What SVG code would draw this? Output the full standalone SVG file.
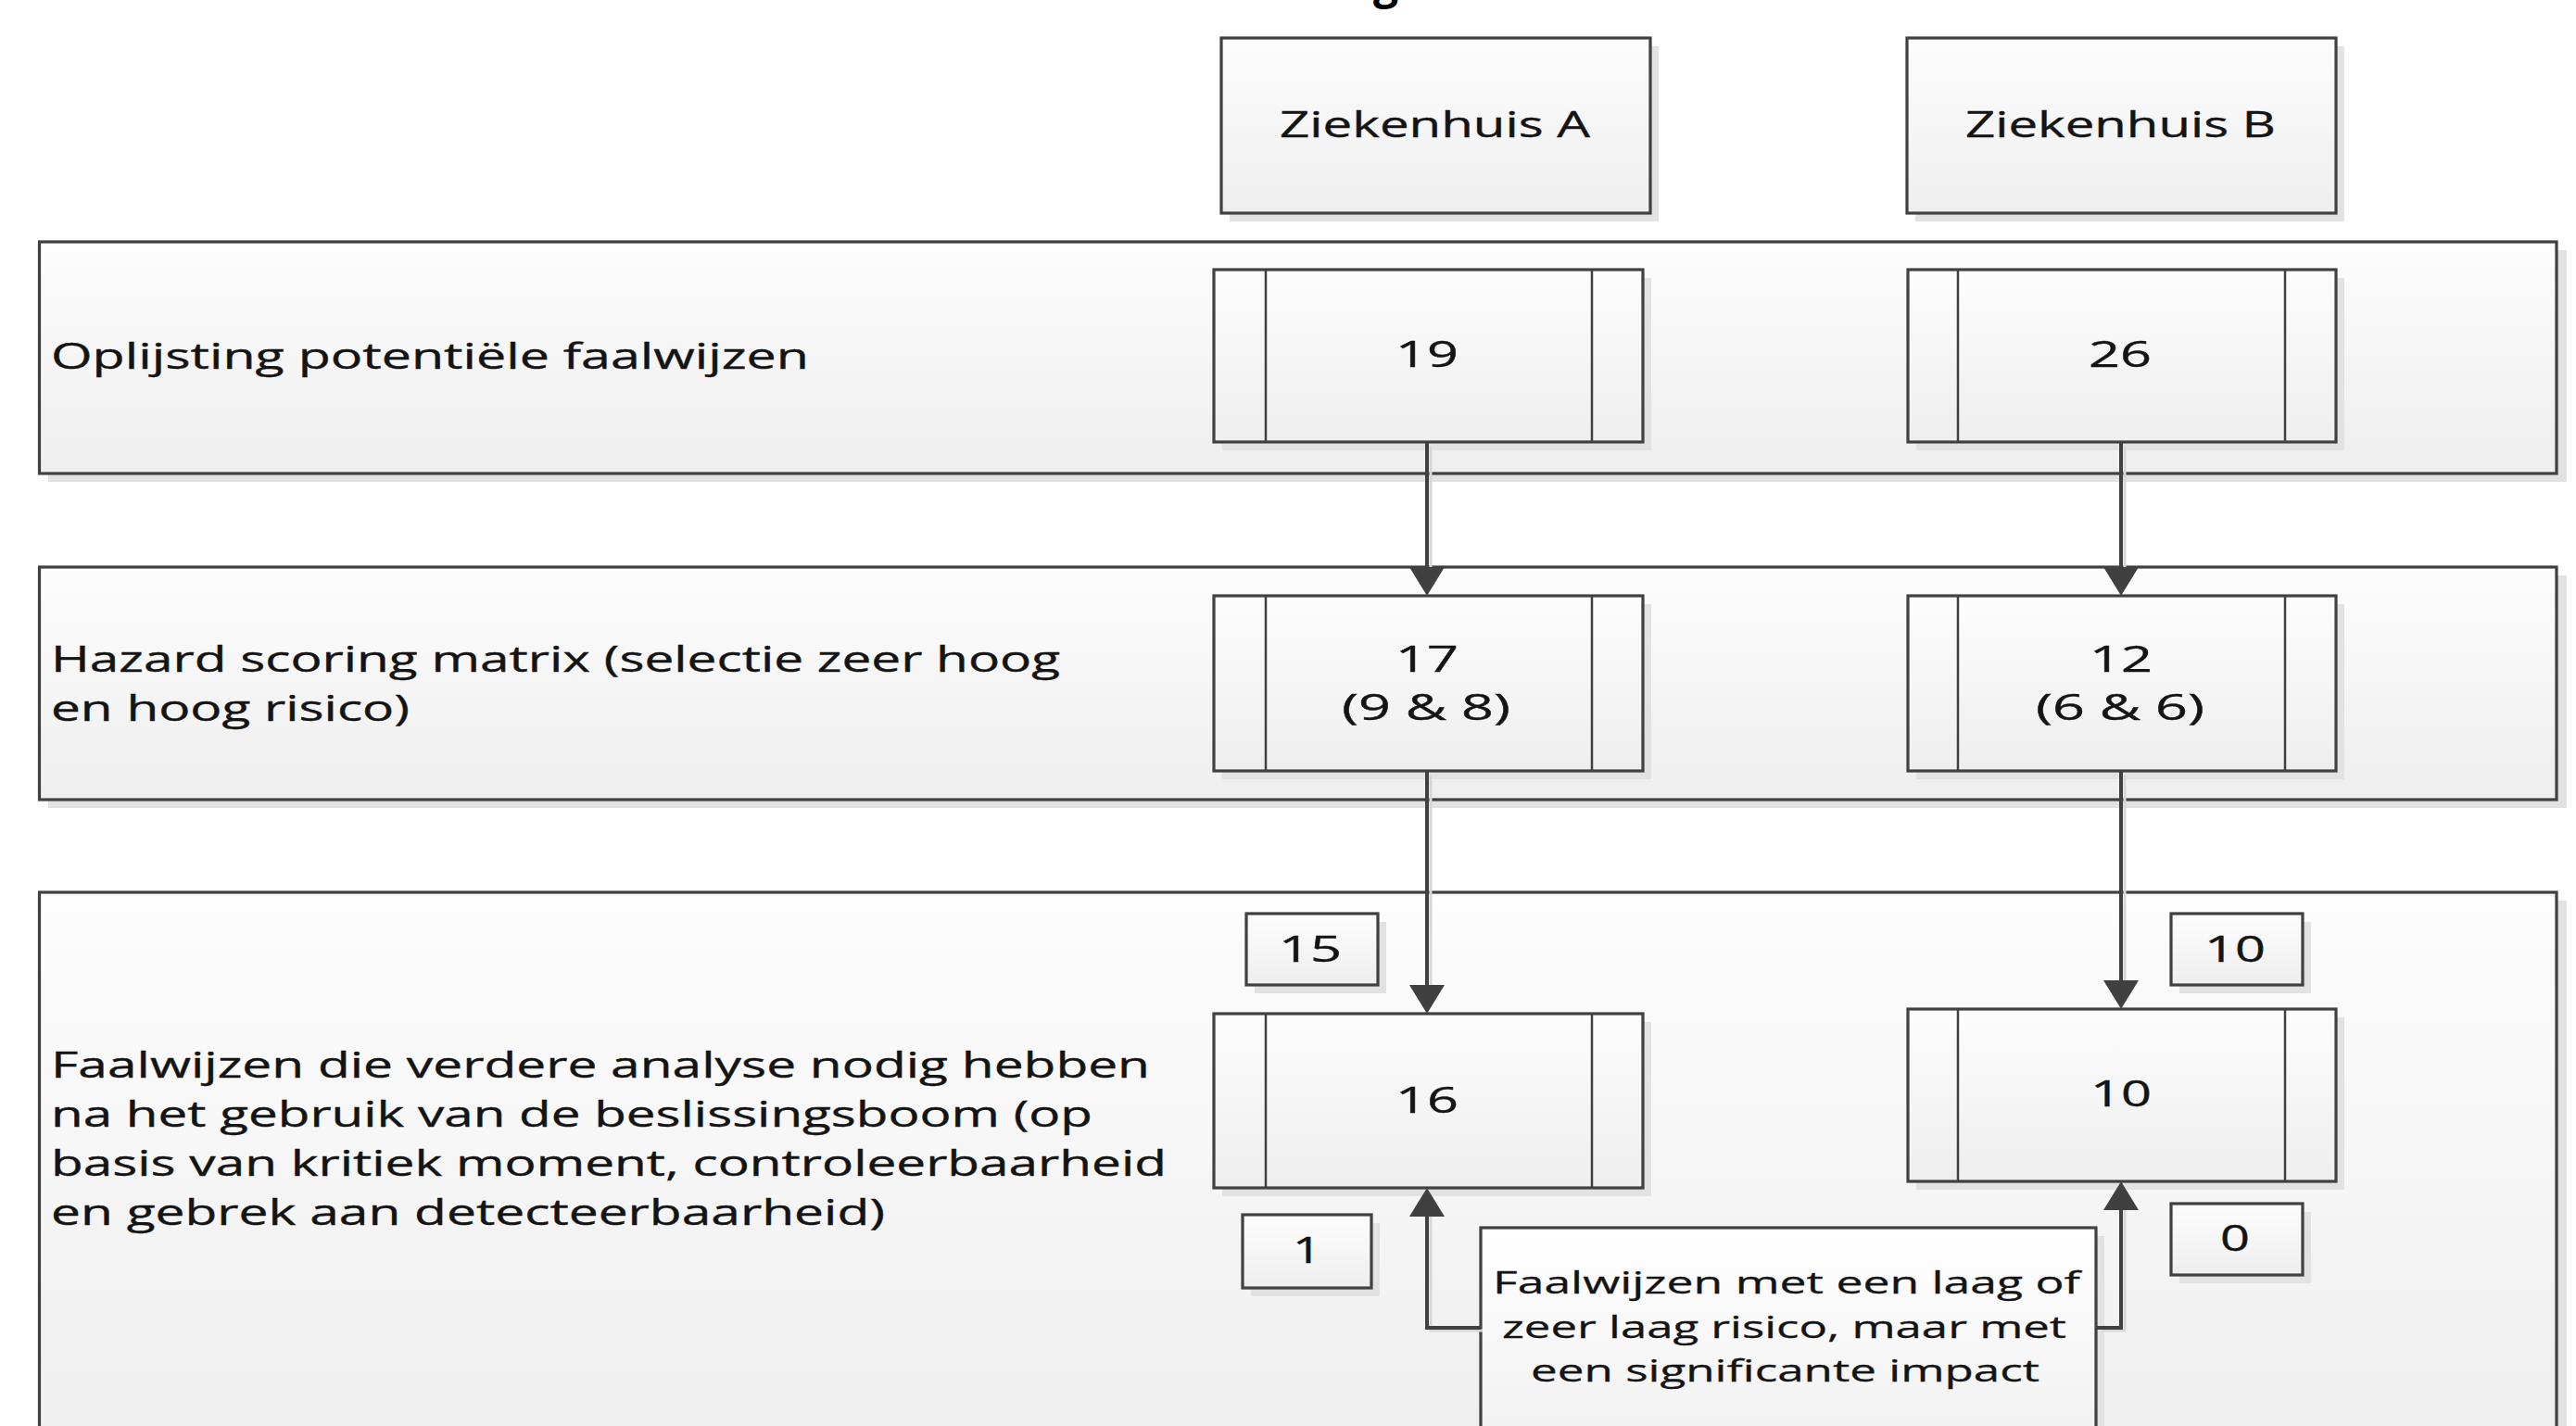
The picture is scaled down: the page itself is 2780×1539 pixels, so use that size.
<svg xmlns="http://www.w3.org/2000/svg" width="2780" height="1539" viewBox="0 0 2780 1539">
  <defs>
    <linearGradient id="g" x1="0" y1="0" x2="0" y2="1">
      <stop offset="0" stop-color="#fdfdfd"/>
      <stop offset="1" stop-color="#eeeeee"/>
    </linearGradient>
    <linearGradient id="gTall" gradientUnits="userSpaceOnUse" x1="0" y1="963" x2="0" y2="1539">
      <stop offset="0" stop-color="#fdfdfd"/>
      <stop offset="1" stop-color="#efefef"/>
    </linearGradient>
    <linearGradient id="gTxt" gradientUnits="userSpaceOnUse" x1="0" y1="1325" x2="0" y2="1539">
      <stop offset="0" stop-color="#ffffff"/>
      <stop offset="1" stop-color="#f2f2f2"/>
    </linearGradient>
    <marker id="arr" markerUnits="userSpaceOnUse" markerWidth="34" markerHeight="38" refX="21" refY="19" orient="auto">
      <path d="M0,0 L31,19 L0,38 z" fill="#404040"/>
    </marker>
  </defs>
  <style>
    .shadow { fill: #e2e2e2; }
    .box { fill: url(#g); stroke: #404040; stroke-width: 3.2; }
    .inner { stroke: #404040; stroke-width: 2.5; }
    .lbl { font-family: "Open Sans", "Noto Sans", sans-serif; font-size: 39px; fill: #141414; stroke: #141414; stroke-width: 0.4; }
    .sm { font-family: "Open Sans", "Noto Sans", sans-serif; font-size: 32px; fill: #141414; stroke: #141414; stroke-width: 0.3; }
    .conn { fill: none; stroke: #404040; stroke-width: 4; }
    .connShadow { fill: none; stroke: #d6d6d6; stroke-width: 3; }
  </style>

  <!-- cut-off title fragment -->
  <text x="1482" y="-2" font-family="Open Sans, sans-serif" font-weight="bold" font-size="48" fill="#000">g</text>

  <!-- Panels -->
  <g id="panel-oplijsting">
    <rect class="shadow" x="52" y="270" width="2718" height="250"/>
    <rect class="box" x="42.5" y="261" width="2716.5" height="250"/>
    <text class="lbl" x="55" y="398" textLength="818" lengthAdjust="spacingAndGlyphs">Oplijsting potentiële faalwijzen</text>
  </g>
  <g id="panel-hazard">
    <rect class="shadow" x="52" y="621" width="2718" height="251"/>
    <rect class="box" x="42.5" y="612" width="2716.5" height="251"/>
    <text class="lbl" x="55" y="725" textLength="1089" lengthAdjust="spacingAndGlyphs">Hazard scoring matrix (selectie zeer hoog</text>
    <text class="lbl" x="55" y="778" textLength="387" lengthAdjust="spacingAndGlyphs">en hoog risico)</text>
  </g>
  <g id="panel-faalwijzen">
    <rect class="shadow" x="52" y="972" width="2718" height="700"/>
    <rect x="42.5" y="963" width="2716.5" height="700" fill="url(#gTall)" stroke="#404040" stroke-width="3.2"/>
    <text class="lbl" x="55" y="1163" textLength="1186" lengthAdjust="spacingAndGlyphs">Faalwijzen die verdere analyse nodig hebben</text>
    <text class="lbl" x="55" y="1216" textLength="1124" lengthAdjust="spacingAndGlyphs">na het gebruik van de beslissingsboom (op</text>
    <text class="lbl" x="55" y="1269" textLength="1204" lengthAdjust="spacingAndGlyphs">basis van kritiek moment, controleerbaarheid</text>
    <text class="lbl" x="55" y="1322" textLength="900" lengthAdjust="spacingAndGlyphs">en gebrek aan detecteerbaarheid)</text>
  </g>

  <!-- Header nodes -->
  <g id="ziekenhuis-a">
    <rect class="shadow" x="1327" y="50" width="463" height="189"/>
    <rect class="box" x="1318" y="41" width="463" height="189"/>
    <text class="lbl" x="1381" y="148" textLength="335" lengthAdjust="spacingAndGlyphs">Ziekenhuis A</text>
  </g>
  <g id="ziekenhuis-b">
    <rect class="shadow" x="2067" y="50" width="463" height="189"/>
    <rect class="box" x="2058" y="41" width="463" height="189"/>
    <text class="lbl" x="2121" y="148" textLength="335" lengthAdjust="spacingAndGlyphs">Ziekenhuis B</text>
  </g>

  <!-- Process nodes A -->
  <g id="a-19">
    <rect class="shadow" x="1319" y="300" width="463" height="186"/>
    <rect class="box" x="1310" y="291" width="463" height="186"/>
    <line class="inner" x1="1366" y1="291" x2="1366" y2="477"/>
    <line class="inner" x1="1718" y1="291" x2="1718" y2="477"/>
    <text class="lbl" x="1506" y="396" textLength="68" lengthAdjust="spacingAndGlyphs">19</text>
  </g>
  <g id="a-17">
    <rect class="shadow" x="1319" y="652" width="463" height="189"/>
    <rect class="box" x="1310" y="643" width="463" height="189"/>
    <line class="inner" x1="1366" y1="643" x2="1366" y2="832"/>
    <line class="inner" x1="1718" y1="643" x2="1718" y2="832"/>
    <text class="lbl" x="1506" y="725" textLength="68" lengthAdjust="spacingAndGlyphs">17</text>
    <text class="lbl" x="1448" y="777" textLength="182" lengthAdjust="spacingAndGlyphs">(9 &amp; 8)</text>
  </g>
  <g id="a-16">
    <rect class="shadow" x="1319" y="1103" width="463" height="188"/>
    <rect class="box" x="1310" y="1094" width="463" height="188"/>
    <line class="inner" x1="1366" y1="1094" x2="1366" y2="1282"/>
    <line class="inner" x1="1718" y1="1094" x2="1718" y2="1282"/>
    <text class="lbl" x="1506" y="1201" textLength="68" lengthAdjust="spacingAndGlyphs">16</text>
  </g>
  <g id="a-15">
    <rect class="shadow" x="1354" y="995" width="142" height="77"/>
    <rect class="box" x="1345" y="986" width="142" height="77"/>
    <text class="lbl" x="1380" y="1038" textLength="68" lengthAdjust="spacingAndGlyphs">15</text>
  </g>
  <g id="a-1">
    <rect class="shadow" x="1350" y="1320" width="139" height="79"/>
    <rect class="box" x="1341" y="1311" width="139" height="79"/>
    <text class="lbl" x="1395" y="1363" textLength="31" lengthAdjust="spacingAndGlyphs">1</text>
  </g>

  <!-- Process nodes B -->
  <g id="b-26">
    <rect class="shadow" x="2068" y="300" width="462" height="186"/>
    <rect class="box" x="2059" y="291" width="462" height="186"/>
    <line class="inner" x1="2113" y1="291" x2="2113" y2="477"/>
    <line class="inner" x1="2466" y1="291" x2="2466" y2="477"/>
    <text class="lbl" x="2254" y="396" textLength="68" lengthAdjust="spacingAndGlyphs">26</text>
  </g>
  <g id="b-12">
    <rect class="shadow" x="2068" y="652" width="462" height="189"/>
    <rect class="box" x="2059" y="643" width="462" height="189"/>
    <line class="inner" x1="2113" y1="643" x2="2113" y2="832"/>
    <line class="inner" x1="2466" y1="643" x2="2466" y2="832"/>
    <text class="lbl" x="2255" y="725" textLength="68" lengthAdjust="spacingAndGlyphs">12</text>
    <text class="lbl" x="2197" y="777" textLength="182" lengthAdjust="spacingAndGlyphs">(6 &amp; 6)</text>
  </g>
  <g id="b-10">
    <rect class="shadow" x="2068" y="1098" width="462" height="186"/>
    <rect class="box" x="2059" y="1089" width="462" height="186"/>
    <line class="inner" x1="2113" y1="1089" x2="2113" y2="1275"/>
    <line class="inner" x1="2466" y1="1089" x2="2466" y2="1275"/>
    <text class="lbl" x="2256" y="1194" textLength="66" lengthAdjust="spacingAndGlyphs">10</text>
  </g>
  <g id="b-10-label">
    <rect class="shadow" x="2352" y="995" width="142" height="77"/>
    <rect class="box" x="2343" y="986" width="142" height="77"/>
    <text class="lbl" x="2379" y="1038" textLength="66" lengthAdjust="spacingAndGlyphs">10</text>
  </g>
  <g id="b-0">
    <rect class="shadow" x="2352" y="1308" width="142" height="77"/>
    <rect class="box" x="2343" y="1299" width="142" height="77"/>
    <text class="lbl" x="2396" y="1350" textLength="32" lengthAdjust="spacingAndGlyphs">0</text>
  </g>

  <!-- Low-risk significant impact node -->
  <g id="laag-risico">
    <rect class="shadow" x="1607" y="1334" width="664" height="300"/>
    <rect x="1598" y="1325" width="664" height="300" fill="url(#gTxt)" stroke="#404040" stroke-width="3.2"/>
    <text class="sm" x="1611" y="1396" textLength="634" lengthAdjust="spacingAndGlyphs">Faalwijzen met een laag of</text>
    <text class="sm" x="1621" y="1444" textLength="609" lengthAdjust="spacingAndGlyphs">zeer laag risico, maar met</text>
    <text class="sm" x="1652" y="1491" textLength="549" lengthAdjust="spacingAndGlyphs">een significante impact</text>
  </g>

  <!-- Connectors -->
  <g id="connectors">
    <g transform="translate(4,3)">
      <path class="connShadow" d="M1540,479 V620"/>
      <path class="connShadow" d="M2289,479 V620"/>
      <path class="connShadow" d="M1540,834 V1070"/>
      <path class="connShadow" d="M2289,834 V1066"/>
      <path class="connShadow" d="M1596,1433 H1540 V1305"/>
      <path class="connShadow" d="M2264,1433 H2289 V1298"/>
    </g>
    <path class="conn" d="M1540,478 V633" marker-end="url(#arr)"/>
    <path class="conn" d="M2289,478 V633" marker-end="url(#arr)"/>
    <path class="conn" d="M1540,833 V1084" marker-end="url(#arr)"/>
    <path class="conn" d="M2289,833 V1079" marker-end="url(#arr)"/>
    <path class="conn" d="M1598,1433 H1540 V1292" marker-end="url(#arr)"/>
    <path class="conn" d="M2262,1433 H2289 V1285" marker-end="url(#arr)"/>
  </g>
</svg>
